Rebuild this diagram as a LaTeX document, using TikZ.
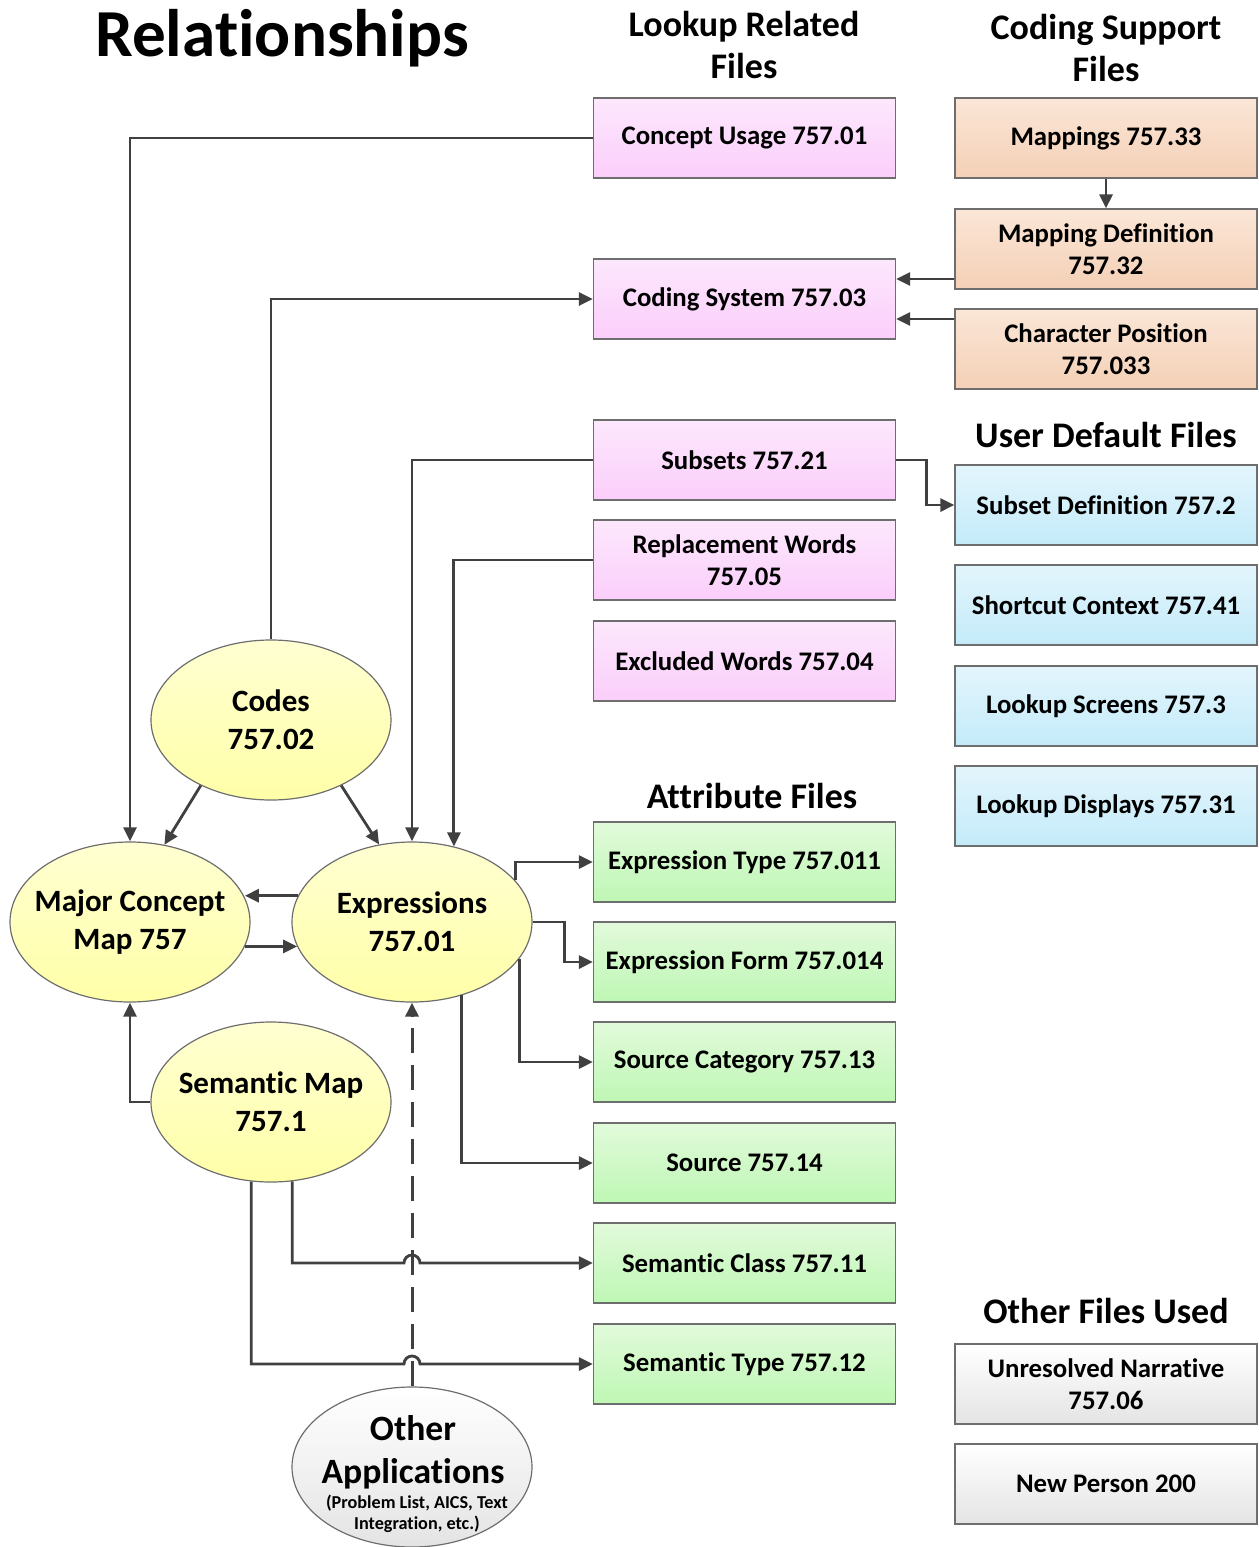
\documentclass[tikz,border=0pt]{standalone}
\usepackage{fontspec}
\setmainfont{Carlito}[Ligatures=NoCommon]
\usetikzlibrary{shapes.geometric,arrows.meta,calc}
\definecolor{conn}{HTML}{404040}
\definecolor{boxline}{HTML}{6E6E6E}
\definecolor{pinktop}{HTML}{FCE8FC}
\definecolor{pinkbot}{HTML}{FBCEFB}
\definecolor{greentop}{HTML}{E2FADB}
\definecolor{greenbot}{HTML}{BEF7B4}
\definecolor{bluetop}{HTML}{E3F5FC}
\definecolor{bluebot}{HTML}{C4EBFA}
\definecolor{ortop}{HTML}{FBE6D7}
\definecolor{orbot}{HTML}{F4D0B6}
\definecolor{greytop}{HTML}{FFFFFF}
\definecolor{greybot}{HTML}{E4E4E4}
\definecolor{ytop}{HTML}{FFFFD2}
\definecolor{ybot}{HTML}{FFFFA8}
\begin{document}
\begin{tikzpicture}[x=0.5pt,y=-0.5pt,
  box/.style={rectangle, draw=boxline, line width=0.6pt, minimum width=151pt, minimum height=40pt, inner sep=0pt, align=center, font=\fontsize{13.4}{16}\selectfont\bfseries},
  pinkbox/.style={box, top color=pinktop, bottom color=pinkbot},
  greenbox/.style={box, top color=greentop, bottom color=greenbot},
  bluebox/.style={box, top color=bluetop, bottom color=bluebot},
  orbox/.style={box, top color=ortop, bottom color=orbot},
  greybox/.style={box, top color=greytop, bottom color=greybot},
  yell/.style={ellipse, draw=boxline, line width=0.6pt, minimum width=120pt, minimum height=80pt, inner sep=0pt, top color=ytop, bottom color=ybot},
  gell/.style={ellipse, draw=boxline, line width=0.6pt, minimum width=120pt, minimum height=80pt, inner sep=0pt, top color=greytop, bottom color=greybot},
  etext/.style={align=center, inner sep=0pt, font=\fontsize{15.5}{19}\selectfont\bfseries},
  heading/.style={align=center, inner sep=0pt, font=\fontsize{18}{21}\selectfont\bfseries},
  arr/.style={draw=conn, line width=1.4pt, -{Triangle[length=7pt,width=6.5pt]}},
]
\useasboundingbox (0,0) rectangle (1258,1547);

% titles
\node[font=\fontsize{33.6}{40}\selectfont\bfseries] (title) at (282,38) {Relationships};
\node[heading] (h1) at (744,45) {Lookup Related\\Files};
\node[heading] (h2) at (1106,48) {Coding Support\\Files};
\node[heading] (h3) at (1106,435) {User Default Files};
\node[heading] (h4) at (752,796) {Attribute Files};
\node[heading] (h5) at (1106,1311) {Other Files Used};

% lookup related
\node[pinkbox] (cu) at (744.5,138) {Concept Usage 757.01};
\node[pinkbox] (cs) at (744.5,299) {Coding System 757.03};
\node[pinkbox] (sub) at (744.5,460) {Subsets 757.21};
\node[pinkbox] (rw) at (744.5,560) {Replacement Words\\757.05};
\node[pinkbox] (ew) at (744.5,661) {Excluded Words 757.04};

% coding support
\node[orbox] (map) at (1106,138) {Mappings 757.33};
\node[orbox] (md) at (1106,249) {Mapping Definition\\757.32};
\node[orbox] (cp) at (1106,349) {Character Position\\757.033};

% user default
\node[bluebox] (sd) at (1106,505) {Subset Definition 757.2};
\node[bluebox] (sc) at (1106,605) {Shortcut Context 757.41};
\node[bluebox] (ls) at (1106,706) {Lookup Screens 757.3};
\node[bluebox] (ld) at (1106,806) {Lookup Displays 757.31};

% attribute files
\node[greenbox] (et) at (744.5,862) {Expression Type 757.011};
\node[greenbox] (ef) at (744.5,962) {Expression Form 757.014};
\node[greenbox] (scat) at (744.5,1062) {Source Category 757.13};
\node[greenbox] (src) at (744.5,1163) {Source 757.14};
\node[greenbox] (scl) at (744.5,1263) {Semantic Class 757.11};
\node[greenbox] (sty) at (744.5,1364) {Semantic Type 757.12};

% other files
\node[greybox] (un) at (1106,1384) {Unresolved Narrative\\757.06};
\node[greybox] (np) at (1106,1484) {New Person 200};

% ellipses
\node[yell] (codes) at (271,720) {};
\node[etext] at (codes) {Codes\\757.02};
\node[yell] (mcm) at (130,922) {};
\node[etext] at (mcm) {Major Concept\\Map 757};
\node[yell] (expr) at (412,922) {};
\node[etext] at (expr) {Expressions\\757.01};
\node[yell] (sm) at (271,1102) {};
\node[etext] at (sm) {Semantic Map\\757.1};
\node[gell] (oa) at (412,1467) {};
\node[align=center, inner sep=0pt, font=\fontsize{17.8}{21.5}\selectfont\bfseries] at (413,1452) {Other\\Applications};
\node[align=center, inner sep=0pt, font=\fontsize{9.1}{10.5}\selectfont\bfseries] at (417,1514) {(Problem List, AICS, Text\\Integration, etc.)};

% connectors
\draw[arr] (cu.west) -| (mcm.north);
\draw[arr] (codes.north) |- (cs.west);
\draw[arr] (sub.west) -| (expr.north);
\draw[arr] (rw.west) -| (expr.61.4);
\draw[arr] (codes.223) -- (mcm.66);
\draw[arr] (codes.317) -- (expr.113);
\draw[arr] (expr.167.6) -- (mcm.12.4 |- expr.167.6);
\draw[arr] (mcm.-12.4) -- (expr.192.4 |- mcm.-12.4);
\draw[arr] (expr.22) |- (et.west);
\draw[arr] (expr.east) -- ++(32,0) |- (ef.west);
\draw[arr] (expr.-19.9) |- (scat.west);
\draw[arr] (expr.-56.7) |- (src.west);
\draw[arr] (sm.west) -| (mcm.south);
\coordinate (hop1) at ($(oa.north |- scl.west)+(-8,0)$);
\coordinate (hop2) at ($(oa.north |- sty.west)+(-8,0)$);
\draw[arr] (sm.-75.8) |- (hop1) arc[start angle=180, end angle=0, radius=4pt] -- (scl.west);
\draw[arr] (sm.-104.2) |- (hop2) arc[start angle=180, end angle=0, radius=4pt] -- (sty.west);
\draw[arr, line width=1.5pt, dash pattern=on 12.5pt off 6pt] (oa.north) -- (expr.south);
\draw[arr] (map.south) -- (md.north);
\coordinate (cs1) at ($(cs.east)+(0,-20)$);
\coordinate (cs2) at ($(cs.east)+(0,20)$);
\draw[arr] (md.west |- cs1) -- (cs1);
\draw[arr] (cp.west |- cs2) -- (cs2);
\draw[arr] (sub.east) -- ++(30,0) |- (sd.west);
\end{tikzpicture}
\end{document}
